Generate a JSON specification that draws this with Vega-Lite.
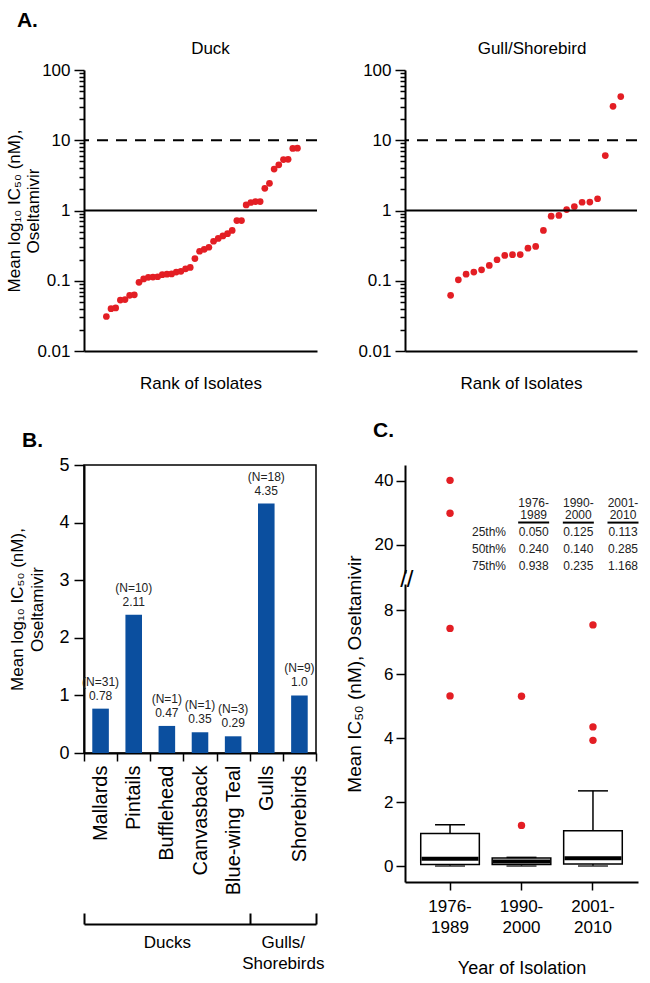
{
  "$schema": "https://vega.github.io/schema/vega-lite/v6.json",
  "padding": {"left": 5, "top": 10, "right": 5, "bottom": 5},
  "background": "white",
  "title": {"text": "A.", "anchor": "start", "fontSize": 21, "fontWeight": "bold", "dx": 11, "offset": 9},
  "config": {
    "font": "Liberation Sans",
    "view": {"stroke": null},
    "axis": {"grid": false, "domainColor": "black", "tickColor": "black", "labelColor": "black", "titleColor": "black", "domainWidth": 2, "tickWidth": 1.5, "labelFontSize": 17, "titleFontSize": 17, "titleFontWeight": "normal", "labelFont": "Liberation Sans", "titleFont": "Liberation Sans"},
    "title": {"fontSize": 17, "fontWeight": "normal", "color": "black", "font": "Liberation Sans"}
  },
  "datasets": {
    "cutoffs": [{"level": 1, "kind": "solid"}, {"level": 10, "kind": "dashed"}],
    "duck": [
      {"rank": 1, "ic50": 0.031}, {"rank": 2, "ic50": 0.040}, {"rank": 3, "ic50": 0.041}, {"rank": 4, "ic50": 0.053},
      {"rank": 5, "ic50": 0.054}, {"rank": 6, "ic50": 0.062}, {"rank": 7, "ic50": 0.063}, {"rank": 8, "ic50": 0.095},
      {"rank": 9, "ic50": 0.106}, {"rank": 10, "ic50": 0.112}, {"rank": 11, "ic50": 0.113}, {"rank": 12, "ic50": 0.114},
      {"rank": 13, "ic50": 0.122}, {"rank": 14, "ic50": 0.124}, {"rank": 15, "ic50": 0.125}, {"rank": 16, "ic50": 0.133},
      {"rank": 17, "ic50": 0.136}, {"rank": 18, "ic50": 0.148}, {"rank": 19, "ic50": 0.155}, {"rank": 20, "ic50": 0.207},
      {"rank": 21, "ic50": 0.263}, {"rank": 22, "ic50": 0.28}, {"rank": 23, "ic50": 0.3}, {"rank": 24, "ic50": 0.365},
      {"rank": 25, "ic50": 0.4}, {"rank": 26, "ic50": 0.434}, {"rank": 27, "ic50": 0.468}, {"rank": 28, "ic50": 0.52},
      {"rank": 29, "ic50": 0.72}, {"rank": 30, "ic50": 0.72}, {"rank": 31, "ic50": 1.2}, {"rank": 32, "ic50": 1.3},
      {"rank": 33, "ic50": 1.34}, {"rank": 34, "ic50": 1.34}, {"rank": 35, "ic50": 2.07}, {"rank": 36, "ic50": 2.44},
      {"rank": 37, "ic50": 3.89}, {"rank": 38, "ic50": 4.47}, {"rank": 39, "ic50": 5.3}, {"rank": 40, "ic50": 5.35},
      {"rank": 41, "ic50": 7.64}, {"rank": 42, "ic50": 7.7}
    ],
    "gull": [
      {"rank": 1, "ic50": 0.062}, {"rank": 2, "ic50": 0.103}, {"rank": 3, "ic50": 0.124}, {"rank": 4, "ic50": 0.133},
      {"rank": 5, "ic50": 0.143}, {"rank": 6, "ic50": 0.165}, {"rank": 7, "ic50": 0.199}, {"rank": 8, "ic50": 0.229},
      {"rank": 9, "ic50": 0.235}, {"rank": 10, "ic50": 0.236}, {"rank": 11, "ic50": 0.291}, {"rank": 12, "ic50": 0.308},
      {"rank": 13, "ic50": 0.52}, {"rank": 14, "ic50": 0.83}, {"rank": 15, "ic50": 0.85}, {"rank": 16, "ic50": 1.03},
      {"rank": 17, "ic50": 1.14}, {"rank": 18, "ic50": 1.31}, {"rank": 19, "ic50": 1.32}, {"rank": 20, "ic50": 1.47},
      {"rank": 21, "ic50": 6.05}, {"rank": 22, "ic50": 30.4}, {"rank": 23, "ic50": 41.8}
    ],
    "species": [
      {"species": "Mallards", "log_ic50": 0.77, "mean": "0.78", "n": "(N=31)"},
      {"species": "Pintails", "log_ic50": 2.4, "mean": "2.11", "n": "(N=10)"},
      {"species": "Bufflehead", "log_ic50": 0.47, "mean": "0.47", "n": "(N=1)"},
      {"species": "Canvasback", "log_ic50": 0.36, "mean": "0.35", "n": "(N=1)"},
      {"species": "Blue-wing Teal", "log_ic50": 0.29, "mean": "0.29", "n": "(N=3)"},
      {"species": "Gulls", "log_ic50": 4.33, "mean": "4.35", "n": "(N=18)"},
      {"species": "Shorebirds", "log_ic50": 1.0, "mean": "1.0", "n": "(N=9)"}
    ],
    "groups": [
      {"group": "Ducks", "first": 0, "last": 5},
      {"group": "Gulls/Shorebirds", "first": 5, "last": 7}
    ],
    "boxes": [
      {"period": "1976-1989", "low": 0.0, "q1": 0.05, "median": 0.23, "q3": 1.02, "high": 1.29},
      {"period": "1990-2000", "low": 0.0, "q1": 0.05, "median": 0.14, "q3": 0.25, "high": 0.27},
      {"period": "2001-2010", "low": 0.0, "q1": 0.06, "median": 0.24, "q3": 1.1, "high": 2.35}
    ],
    "outliers": [
      {"period": "1976-1989", "ic50": 40.2}, {"period": "1976-1989", "ic50": 29.9},
      {"period": "1976-1989", "ic50": 7.43}, {"period": "1976-1989", "ic50": 5.32},
      {"period": "1990-2000", "ic50": 5.31}, {"period": "1990-2000", "ic50": 1.27},
      {"period": "2001-2010", "ic50": 7.54}, {"period": "2001-2010", "ic50": 4.35},
      {"period": "2001-2010", "ic50": 3.93}
    ],
    "table": [
      {"row": "header", "column": "1976-1989", "text": "1976-\n1989"},
      {"row": "header", "column": "1990-2000", "text": "1990-\n2000"},
      {"row": "header", "column": "2001-2010", "text": "2001-\n2010"},
      {"row": "25th%", "column": "stat", "text": "25th%"},
      {"row": "25th%", "column": "1976-1989", "text": "0.050"},
      {"row": "25th%", "column": "1990-2000", "text": "0.125"},
      {"row": "25th%", "column": "2001-2010", "text": "0.113"},
      {"row": "50th%", "column": "stat", "text": "50th%"},
      {"row": "50th%", "column": "1976-1989", "text": "0.240"},
      {"row": "50th%", "column": "1990-2000", "text": "0.140"},
      {"row": "50th%", "column": "2001-2010", "text": "0.285"},
      {"row": "75th%", "column": "stat", "text": "75th%"},
      {"row": "75th%", "column": "1976-1989", "text": "0.938"},
      {"row": "75th%", "column": "1990-2000", "text": "0.235"},
      {"row": "75th%", "column": "2001-2010", "text": "1.168"}
    ]
  },
  "bounds": "flush",
  "columns": 2,
  "spacing": {"row": 114, "column": 88},
  "concat": [
    {
      "width": 233, "height": 281,
      "title": {"text": "Duck", "dx": 10, "offset": 3},
      "layer": [
        {
          "data": {"name": "duck"},
          "mark": {"type": "circle", "size": 45, "color": "#e31e24", "opacity": 1},
          "encoding": {
            "x": {"field": "rank", "type": "quantitative", "scale": {"domain": [-3.8, 46.2], "nice": false, "zero": false}, "axis": {"title": "Rank of Isolates", "ticks": false, "labels": false, "titlePadding": 24}},
            "y": {"field": "ic50", "type": "quantitative", "scale": {"type": "log", "domain": [0.01, 100], "nice": false},
              "axis": {
                "title": ["Mean log₁₀ IC₅₀ (nM),", "Oseltamivir"], "titlePadding": -6, "titleLineHeight": 19,
                "values": [0.01, 0.02, 0.03, 0.04, 0.05, 0.06, 0.07, 0.08, 0.09, 0.1, 0.2, 0.3, 0.4, 0.5, 0.6, 0.7, 0.8, 0.9, 1, 2, 3, 4, 5, 6, 7, 8, 9, 10, 20, 30, 40, 50, 60, 70, 80, 90, 100],
                "labelExpr": "indexof([0.01, 0.1, 1, 10, 100], datum.value) >= 0 ? toString(datum.value) : ''",
                "tickSize": {"condition": {"test": "indexof([0.01, 0.1, 1, 10, 100], datum.value) < 0", "value": 5}, "value": 10},
                "labelPadding": 4, "labelOverlap": false, "labelFlush": false
              }
            }
          }
        },
        {
          "data": {"name": "cutoffs"},
          "mark": {"type": "rule", "strokeWidth": 2, "color": "black"},
          "encoding": {
            "y": {"field": "level", "type": "quantitative"},
            "strokeDash": {"field": "kind", "type": "nominal", "scale": {"domain": ["solid", "dashed"], "range": [[1, 0], [11, 8]]}, "legend": null}
          }
        }
      ]
    },
    {
      "width": 232, "height": 281,
      "title": {"text": "Gull/Shorebird", "dx": 11, "offset": 3},
      "layer": [
        {
          "data": {"name": "gull"},
          "mark": {"type": "circle", "size": 45, "color": "#e31e24", "opacity": 1},
          "encoding": {
            "x": {"field": "rank", "type": "quantitative", "scale": {"domain": [-4.9, 25.1], "nice": false, "zero": false}, "axis": {"title": "Rank of Isolates", "ticks": false, "labels": false, "titlePadding": 24}},
            "y": {"field": "ic50", "type": "quantitative", "scale": {"type": "log", "domain": [0.01, 100], "nice": false},
              "axis": {
                "title": null,
                "values": [0.01, 0.02, 0.03, 0.04, 0.05, 0.06, 0.07, 0.08, 0.09, 0.1, 0.2, 0.3, 0.4, 0.5, 0.6, 0.7, 0.8, 0.9, 1, 2, 3, 4, 5, 6, 7, 8, 9, 10, 20, 30, 40, 50, 60, 70, 80, 90, 100],
                "labelExpr": "indexof([0.01, 0.1, 1, 10, 100], datum.value) >= 0 ? toString(datum.value) : ''",
                "tickSize": {"condition": {"test": "indexof([0.01, 0.1, 1, 10, 100], datum.value) < 0", "value": 5}, "value": 10},
                "labelPadding": 4, "labelOverlap": false, "labelFlush": false
              }
            }
          }
        },
        {
          "data": {"name": "cutoffs"},
          "mark": {"type": "rule", "strokeWidth": 2, "color": "black"},
          "encoding": {
            "y": {"field": "level", "type": "quantitative"},
            "strokeDash": {"field": "kind", "type": "nominal", "scale": {"domain": ["solid", "dashed"], "range": [[1, 0], [11, 8]]}, "legend": null}
          }
        }
      ]
    },
    {
      "width": 232, "height": 288,
      "view": {"stroke": "black", "strokeWidth": 1.5},
      "title": {"text": "B.", "anchor": "start", "frame": "group", "dx": -62, "offset": 5, "fontSize": 21, "fontWeight": "bold"},
      "resolve": {"scale": {"x": "independent"}, "axis": {"x": "independent"}},
      "layer": [
        {
          "data": {"name": "species"},
          "layer": [
            {
              "mark": {"type": "bar", "color": "#0b4f9f", "width": {"band": 0.5}},
              "encoding": {
                "x": {"field": "species", "type": "nominal", "sort": null, "scale": {"paddingInner": 0, "paddingOuter": 0},
                  "axis": {"title": null, "labelAngle": -90, "tickBand": "extent", "tickSize": 8, "labelPadding": 4, "labelFontSize": 20}},
                "y": {"field": "log_ic50", "type": "quantitative", "scale": {"domain": [0, 5], "nice": false},
                  "axis": {"values": [0, 1, 2, 3, 4, 5], "format": "d", "tickSize": 10, "labelPadding": 5, "labelFontSize": 18, "title": ["Mean log₁₀ IC₅₀ (nM),", "Oseltamivir"], "titleLineHeight": 20, "titlePadding": 12}}
              }
            },
            {
              "mark": {"type": "text", "dy": -27, "fontSize": 12, "color": "#222222"},
              "encoding": {
                "x": {"field": "species", "type": "nominal", "sort": null},
                "y": {"field": "log_ic50", "type": "quantitative"},
                "text": {"field": "n"}
              }
            },
            {
              "mark": {"type": "text", "dy": -13, "fontSize": 12, "color": "#222222"},
              "encoding": {
                "x": {"field": "species", "type": "nominal", "sort": null},
                "y": {"field": "log_ic50", "type": "quantitative"},
                "text": {"field": "mean"}
              }
            }
          ]
        },
        {
          "data": {"name": "groups"},
          "mark": {"type": "rule", "opacity": 0},
          "encoding": {
            "x": {"field": "first", "type": "quantitative", "scale": {"domain": [0, 7], "nice": false, "zero": false},
              "axis": {
                "orient": "bottom", "offset": 171, "title": null,
                "values": [0, 2.5, 5, 6, 7],
                "labelExpr": "datum.value == 2.5 ? 'Ducks' : datum.value == 6 ? ['Gulls/', 'Shorebirds'] : ''",
                "tickSize": -11, "tickWidth": 2, "domainWidth": 2,
                "tickOpacity": {"condition": {"test": "datum.value == 2.5 || datum.value == 6", "value": 0}, "value": 1},
                "labelPadding": 21, "labelFontSize": 17, "labelLineHeight": 21,
                "labelFlush": false, "labelOverlap": false, "labelBound": false
              }
            },
            "x2": {"field": "last"}
          }
        }
      ]
    },
    {
      "width": 233, "height": 417,
      "title": {"text": "C.", "anchor": "start", "frame": "group", "dx": -32, "offset": 24, "fontSize": 21, "fontWeight": "bold"},
      "resolve": {"scale": {"x": "independent", "y": "independent"}, "axis": {"x": "independent", "y": "independent"}},
      "layer": [
        {
          "layer": [
            {
              "data": {"name": "boxes"},
              "mark": {"type": "rule", "strokeWidth": 1.5, "color": "black"},
              "encoding": {
                "x": {"field": "period", "type": "nominal", "sort": null, "scale": {"type": "band", "paddingInner": 0.18, "paddingOuter": 0.22},
                  "axis": {"title": "Year of Isolation", "titleFontSize": 18, "titlePadding": 24, "labelExpr": "[slice(datum.label, 0, 5), slice(datum.label, 5)]", "labelAngle": 0, "tickSize": 8, "labelPadding": 8, "labelFontSize": 17, "labelLineHeight": 21}},
                "y": {"field": "q3", "type": "quantitative",
                  "scale": {"domain": [-0.5, 8.6, 12.8, 45], "range": [417, 126, 103, 0], "nice": false, "zero": false},
                  "axis": {
                    "title": "Mean IC₅₀ (nM), Oseltamivir", "titlePadding": 10, "titleFontSize": 19,
                    "values": [0, 2, 4, 6, 8, 10.7, 20, 40],
                    "labelExpr": "datum.value == 10.7 ? '//' : datum.label",
                    "tickSize": 9,
                    "labelPadding": {"condition": {"test": "datum.value == 10.7", "value": -17}, "value": 3},
                    "labelFontSize": {"condition": {"test": "datum.value == 10.7", "value": 24}, "value": 17},
                    "tickOpacity": {"condition": {"test": "datum.value == 10.7", "value": 0}, "value": 1},
                    "labelOverlap": false, "labelFlush": false,
                    "domainDash": [298, 11, 200]
                  }
                },
                "y2": {"field": "high"}
              }
            },
            {
              "data": {"name": "boxes"},
              "mark": {"type": "rule", "strokeWidth": 1.5, "color": "black"},
              "encoding": {
                "x": {"field": "period", "type": "nominal", "sort": null},
                "y": {"field": "low", "type": "quantitative"},
                "y2": {"field": "q1"}
              }
            },
            {
              "data": {"name": "boxes"},
              "mark": {"type": "bar", "fill": "white", "stroke": "black", "strokeWidth": 1.5},
              "encoding": {
                "x": {"field": "period", "type": "nominal", "sort": null},
                "y": {"field": "q1", "type": "quantitative"},
                "y2": {"field": "q3"}
              }
            },
            {
              "data": {"name": "boxes"},
              "mark": {"type": "tick", "orient": "horizontal", "thickness": 4, "size": 57, "color": "black", "opacity": 1},
              "encoding": {
                "x": {"field": "period", "type": "nominal", "sort": null},
                "y": {"field": "median", "type": "quantitative"}
              }
            },
            {
              "data": {"name": "boxes"},
              "mark": {"type": "tick", "orient": "horizontal", "thickness": 1.5, "size": 30, "color": "black", "opacity": 1},
              "encoding": {
                "x": {"field": "period", "type": "nominal", "sort": null},
                "y": {"field": "high", "type": "quantitative"}
              }
            },
            {
              "data": {"name": "boxes"},
              "mark": {"type": "tick", "orient": "horizontal", "thickness": 1.5, "size": 30, "color": "#333333", "opacity": 1},
              "encoding": {
                "x": {"field": "period", "type": "nominal", "sort": null},
                "y": {"field": "low", "type": "quantitative"}
              }
            },
            {
              "data": {"name": "outliers"},
              "mark": {"type": "circle", "size": 55, "color": "#e31e24", "opacity": 1},
              "encoding": {
                "x": {"field": "period", "type": "nominal", "sort": null},
                "y": {"field": "ic50", "type": "quantitative"}
              }
            }
          ]
        },
        {
          "data": {"name": "table"},
          "encoding": {
            "x": {"field": "column", "type": "nominal", "scale": {"type": "point", "domain": ["stat", "1976-1989", "1990-2000", "2001-2010"], "range": [84, 218], "padding": 0}, "axis": null},
            "y": {"field": "row", "type": "nominal", "scale": {"type": "point", "domain": ["header", "25th%", "50th%", "75th%"], "range": [50.6, 100.7], "padding": 0}, "axis": null}
          },
          "layer": [
            {
              "transform": [{"filter": "datum.row == 'header'"}],
              "mark": {"type": "text", "fontSize": 12, "baseline": "bottom", "dy": -6, "lineBreak": "\n", "lineHeight": 12.5, "color": "#222222"},
              "encoding": {"text": {"field": "text"}}
            },
            {
              "transform": [{"filter": "datum.row != 'header'"}],
              "mark": {"type": "text", "fontSize": 12, "baseline": "middle", "color": "#222222"},
              "encoding": {"text": {"field": "text"}}
            },
            {
              "transform": [{"filter": "datum.row == 'header'"}],
              "mark": {"type": "tick", "orient": "horizontal", "size": 31, "thickness": 2, "yOffset": 7, "color": "black", "opacity": 1}
            }
          ]
        }
      ]
    }
  ]
}
